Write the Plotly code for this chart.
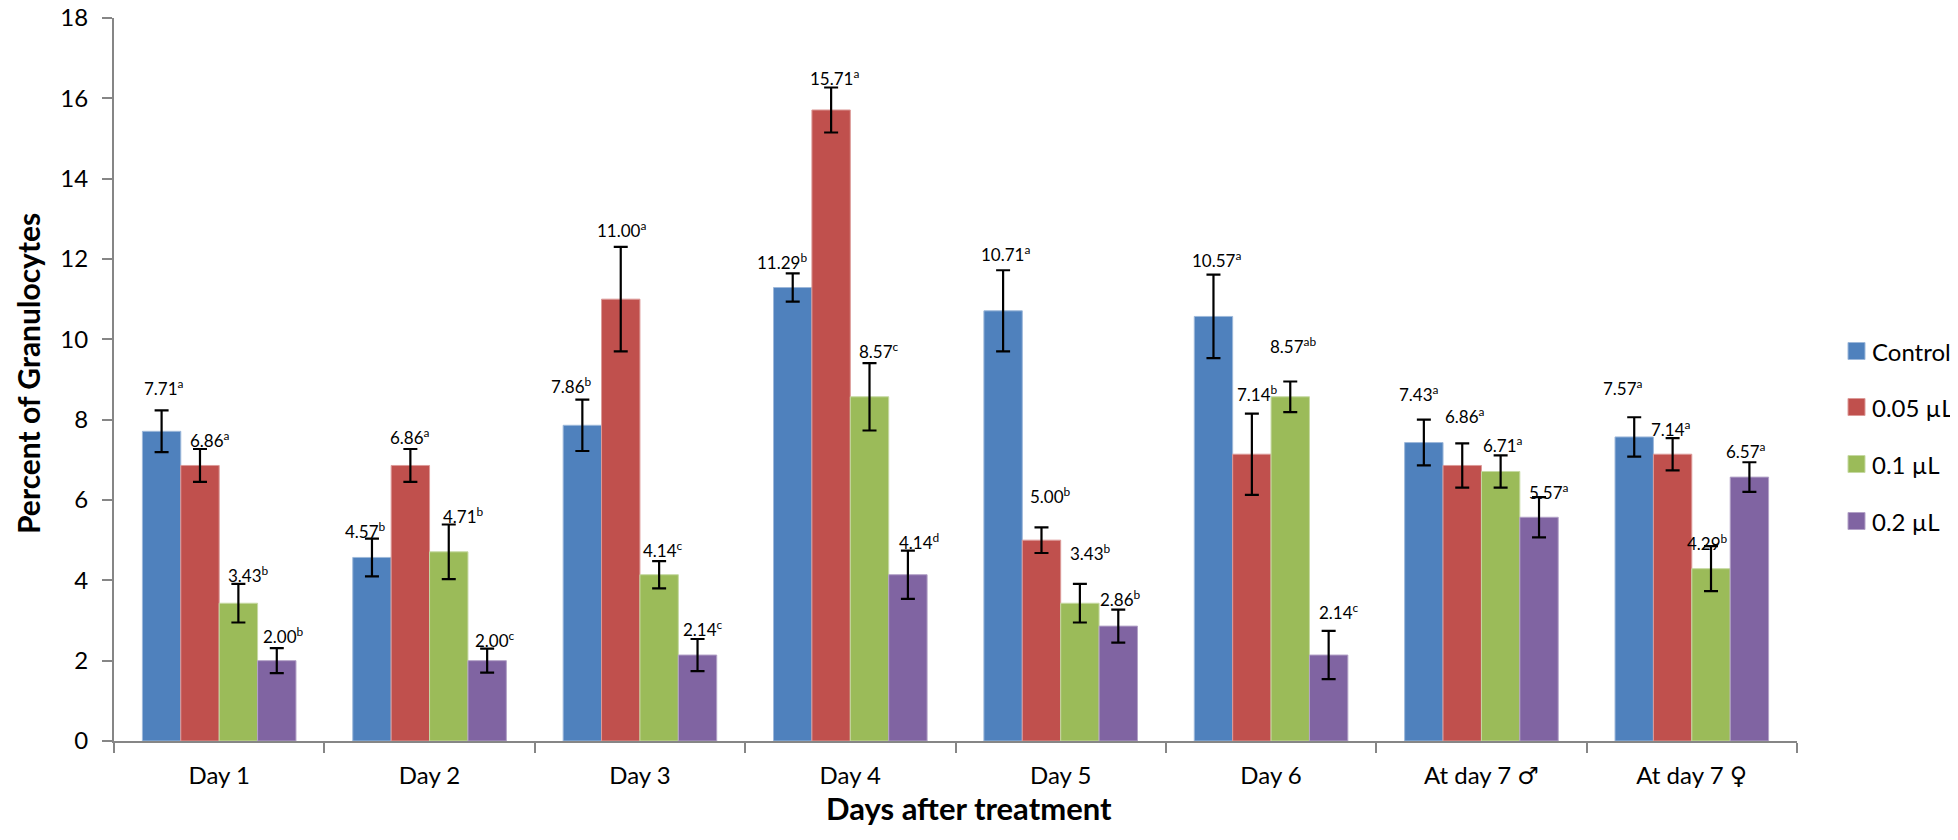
import plotly.graph_objects as go

categories = ["Day 1", "Day 2", "Day 3", "Day 4", "Day 5", "Day 6", "At day 7 ♂", "At day 7 ♀"]
series_names = ["Control", "0.05 µL", "0.1 µL", "0.2 µL"]

control = [7.71, 4.57, 7.86, 11.29, 10.71, 10.57, 7.43, 7.57]
dose_005 = [6.86, 6.86, 11.00, 15.71, 5.00, 7.14, 6.86, 7.14]
dose_01 = [3.43, 4.71, 4.14, 8.57, 3.43, 8.57, 6.71, 4.29]
dose_02 = [2.00, 2.00, 2.14, 4.14, 2.86, 2.14, 5.57, 6.57]

err_control = [0.52, 0.47, 0.64, 0.35, 1.01, 1.04, 0.57, 0.49]
err_005 = [0.41, 0.41, 1.30, 0.56, 0.32, 1.01, 0.55, 0.40]
err_01 = [0.48, 0.68, 0.34, 0.84, 0.48, 0.38, 0.40, 0.56]
err_02 = [0.31, 0.30, 0.40, 0.60, 0.41, 0.60, 0.50, 0.37]

letters_control = ["a", "b", "b", "b", "a", "a", "a", "a"]
letters_005 = ["a", "a", "a", "a", "b", "b", "a", "a"]
letters_01 = ["b", "b", "c", "c", "b", "ab", "a", "b"]
letters_02 = ["b", "c", "c", "d", "b", "c", "a", "a"]

y_ticks = [0, 2, 4, 6, 8, 10, 12, 14, 16, 18]

# ---- styling / layout (not data) ----
colors = ["#4F81BD", "#C0504D", "#9BBB59", "#8064A2"]
edge_colors = ["#9DB8DA", "#DC9A98", "#C6D9A3", "#B3A2C7"]
FONT = "Lato, 'Open Sans', 'DejaVu Sans', sans-serif"
W, H = 1958, 840
ML, MR, MT, MB = 106, 169, 10, 107
BARGAP = 0.27
plot_w = W - ML - MR
plot_h = H - MT - MB


def px_x(px):
    return (px - ML) / plot_w


def px_y(py):
    return (H - MB - py) / plot_h


# label placement tweaks in pixels (layout only)
label_dx = [
    [2, -6, -11, -11, 2, 3, -5, -11],
    [10, 0, 1, 3, 9, 6, 3, -2],
    [10, 15, 4, 9, 11, 3, 2, -4],
    [7, 8, 5, 11, 2, 10, 10, -3],
]
label_dy = [
    [23, 8, 14, 12, 17, 15, 26, 30],
    [9, 12, 17, 10, 32, 20, 28, 10],
    [9, 9, 12, 13, 31, 36, 11, 4],
    [13, 9, 10, 9, 11, 19, 6, 12],
]

values = [control, dose_005, dose_01, dose_02]
errors = [err_control, err_005, err_01, err_02]
letters = [letters_control, letters_005, letters_01, letters_02]

fig = go.Figure()
for i, name in enumerate(series_names):
    fig.add_trace(go.Bar(
        x=categories, y=values[i], name=name, showlegend=False,
        marker=dict(color=colors[i], line=dict(color=edge_colors[i], width=1)),
        error_y=dict(type="data", array=errors[i], visible=True,
                     color="black", thickness=2.2, width=7),
    ))

slot = plot_w / len(categories) * (1 - BARGAP) / len(series_names)

annotations = []
for i in range(len(series_names)):
    for j, cat in enumerate(categories):
        v = values[i][j]
        annotations.append(dict(
            x=cat, y=v + errors[i][j], xref="x", yref="y",
            text=f"{v:.2f}<sup>{letters[i][j]}</sup>",
            showarrow=False, xanchor="center", yanchor="middle",
            xshift=(i - 1.5) * slot + label_dx[i][j], yshift=label_dy[i][j],
            font=dict(family=FONT, size=17, color="black"),
        ))

annotations.append(dict(
    text="<b>Percent of Granulocytes</b>", textangle=-90,
    xref="paper", yref="paper", x=px_x(20), y=px_y(366),
    xanchor="center", yanchor="middle", showarrow=False,
    font=dict(family=FONT, size=30, color="black"),
))
annotations.append(dict(
    text="<b>Days after treatment</b>",
    xref="paper", yref="paper", x=px_x(961), y=px_y(800),
    xanchor="center", yanchor="middle", showarrow=False,
    font=dict(family=FONT, size=31, color="black"),
))

# legend drawn as squares + labels
shapes = []
legend_rows = [343, 399, 456, 513]
for i, name in enumerate(series_names):
    cy = legend_rows[i]
    shapes.append(dict(
        type="rect", xref="paper", yref="paper",
        x0=px_x(1840), x1=px_x(1857), y0=px_y(cy + 8.5), y1=px_y(cy - 8.5),
        fillcolor=colors[i], line=dict(color=edge_colors[i], width=1),
    ))
    annotations.append(dict(
        text=name, xref="paper", yref="paper", x=px_x(1862), y=px_y(cy),
        xanchor="left", yanchor="middle", showarrow=False,
        font=dict(family=FONT, size=24, color="black"),
    ))

axis_col = "#868686"
fig.update_layout(
    width=W, height=H,
    margin=dict(l=ML, r=MR, t=MT, b=MB, pad=0, autoexpand=False),
    paper_bgcolor="white", plot_bgcolor="white",
    barmode="group", bargap=BARGAP, bargroupgap=0,
    font=dict(family=FONT, color="black"),
    showlegend=False,
    annotations=annotations,
    shapes=shapes,
    xaxis=dict(
        type="category", showline=True, linecolor=axis_col, linewidth=2,
        ticks="outside", tickson="boundaries", ticklen=10, tickwidth=2, tickcolor=axis_col,
        tickfont=dict(family=FONT, size=24, color="black"),
        ticklabelstandoff=12, showgrid=False, zeroline=False, automargin=False,
    ),
    yaxis=dict(
        range=[0, 18], tickvals=y_ticks, showline=True, linecolor=axis_col, linewidth=2,
        ticks="outside", ticklen=10, tickwidth=2, tickcolor=axis_col,
        tickfont=dict(family=FONT, size=24, color="black"),
        ticklabelstandoff=9, ticklabeloverflow="allow", showgrid=False, zeroline=False,
        automargin=False,
    ),
)

fig.write_html("out.html")
